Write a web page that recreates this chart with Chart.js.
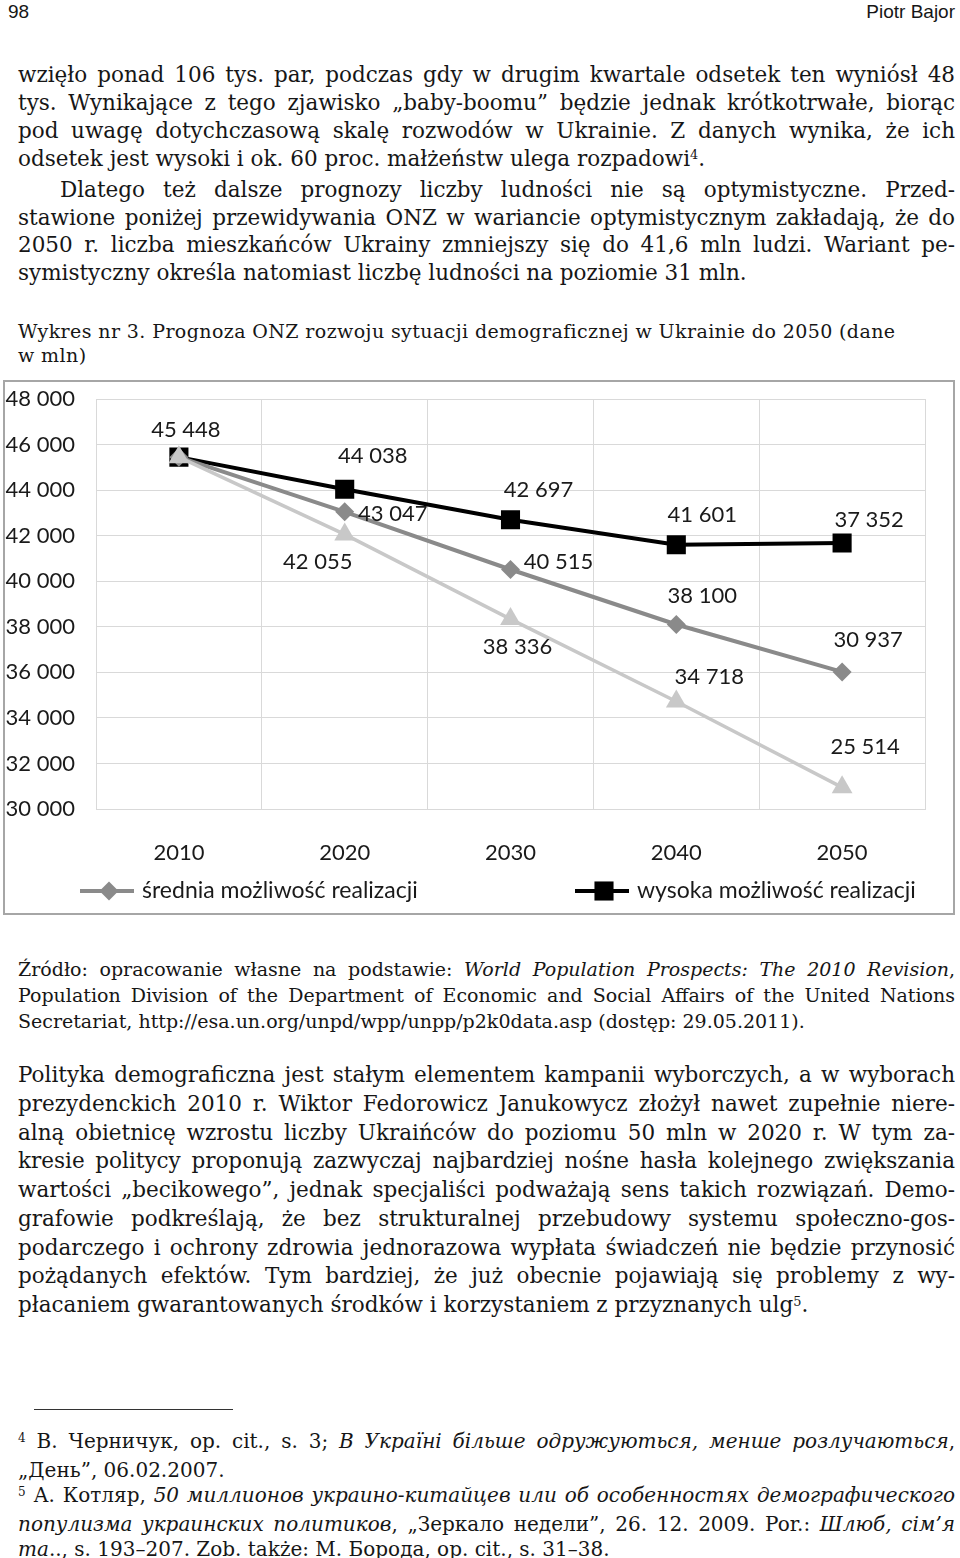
<!DOCTYPE html>
<html lang="pl">
<head>
<meta charset="utf-8">
<script src="https://cdn.jsdelivr.net/npm/chart.js@4.4.1/dist/chart.umd.min.js"></script>
<style>
  html, body { margin: 0; padding: 0; background: #fff; }
  body { width: 960px; height: 1558px; position: relative; overflow: hidden; color: #161616; }
  .hdr { position: absolute; top: 1px; font-family: "Liberation Sans", Arial, sans-serif; font-size: 19px; }
  .block { position: absolute; left: 18px; width: 937px; font-family: "DejaVu Serif", serif; }
  .j { text-align: justify; text-align-last: justify; word-spacing: -3px; }
  .sup { font-size: 0.6em; position: relative; top: -0.5em; }
  #p1 { top: 61px; font-size: 21.5px; line-height: 27.9px; }
  #cap { top: 319px; font-size: 19px; line-height: 24px; letter-spacing: 0.4px; }
  #src { top: 956px; font-size: 19px; line-height: 26px; }
  #p3 { top: 1061px; font-size: 21.5px; line-height: 28.75px; }
  #fn { top: 1429px; font-size: 20px; line-height: 25.5px; }
  #rule { position: absolute; left: 34px; top: 1409px; width: 199px; height: 1px; background: #333; }
  #chartBox { position: absolute; left: 3px; top: 380px; width: 952px; height: 535px; box-sizing: border-box; border: 2px solid #a6a6a6; background: #fff; }
  #chart { display: block; }
</style>
</head>
<body>
<div class="hdr" style="left:8px">98</div>
<div class="hdr" style="right:5px">Piotr Bajor</div>

<div class="block" id="p1">
  <div class="j">wzięło ponad 106 tys. par, podczas gdy w drugim kwartale odsetek ten wyniósł 48</div>
  <div class="j">tys. Wynikające z tego zjawisko „baby-boomu” będzie jednak krótkotrwałe, biorąc</div>
  <div class="j">pod uwagę dotychczasową skalę rozwodów w Ukrainie. Z danych wynika, że ich</div>
  <div>odsetek jest wysoki i ok. 60 proc. małżeństw ulega rozpadowi<span class="sup">4</span>.</div>
  <div class="j" style="padding-left:42px">Dlatego też dalsze prognozy liczby ludności nie są optymistyczne. Przed-</div>
  <div class="j">stawione poniżej przewidywania ONZ w wariancie optymistycznym zakładają, że do</div>
  <div class="j">2050 r. liczba mieszkańców Ukrainy zmniejszy się do 41,6 mln ludzi. Wariant pe-</div>
  <div>symistyczny określa natomiast liczbę ludności na poziomie 31 mln.</div>
</div>

<div class="block" id="cap">
  <div>Wykres nr 3. Prognoza ONZ rozwoju sytuacji demograficznej w Ukrainie do 2050 (dane</div>
  <div>w mln)</div>
</div>

<div id="chartBox"><canvas id="chart" width="948" height="531"></canvas></div>

<div class="block" id="src">
  <div class="j">Źródło: opracowanie własne na podstawie: <i>World Population Prospects: The 2010 Revision</i>,</div>
  <div class="j">Population Division of the Department of Economic and Social Affairs of the United Nations</div>
  <div>Secretariat, http://esa.un.org/unpd/wpp/unpp/p2k0data.asp (dostęp: 29.05.2011).</div>
</div>

<div class="block" id="p3">
  <div class="j">Polityka demograficzna jest stałym elementem kampanii wyborczych, a w wyborach</div>
  <div class="j">prezydenckich 2010 r. Wiktor Fedorowicz Janukowycz złożył nawet zupełnie niere-</div>
  <div class="j">alną obietnicę wzrostu liczby Ukraińców do poziomu 50 mln w 2020 r. W tym za-</div>
  <div class="j">kresie politycy proponują zazwyczaj najbardziej nośne hasła kolejnego zwiększania</div>
  <div class="j">wartości „becikowego”, jednak specjaliści podważają sens takich rozwiązań. Demo-</div>
  <div class="j">grafowie podkreślają, że bez strukturalnej przebudowy systemu społeczno-gos-</div>
  <div class="j">podarczego i ochrony zdrowia jednorazowa wypłata świadczeń nie będzie przynosić</div>
  <div class="j">pożądanych efektów. Tym bardziej, że już obecnie pojawiają się problemy z wy-</div>
  <div>płacaniem gwarantowanych środków i korzystaniem z przyznanych ulg<span class="sup">5</span>.</div>
</div>

<div id="rule"></div>

<div class="block" id="fn">
  <div class="j"><span class="sup">4</span> В. Черничук, op. cit., s. 3; <i>В Україні більше одружуються, менше розлучаються</i>,</div>
  <div>„День”, 06.02.2007.</div>
  <div class="j"><span class="sup">5</span> А. Котляр, <i>50 миллионов украино-китайцев или об особенностях демографического</i></div>
  <div class="j"><i>популизма украинских политиков</i>, „Зеркало недели”, 26. 12. 2009. Por.: <i>Шлюб, сім’я</i></div>
  <div><i>та</i>.., s. 193–207. Zob. także: М. Борода, op. cit., s. 31–38.</div>
</div>

<script>
// data (values as plotted, labels as printed)
var years = ["2010", "2020", "2030", "2040", "2050"];
var highValues = [45448, 44038, 42697, 41601, 41680];
var midValues = [45448, 43047, 40515, 38100, 36020];
var lowValues = [45448, 42055, 38336, 34718, 30950];
var highLabels = ["45 448", "44 038", "42 697", "41 601", "37 352"];
var midLabels = ["", "43 047", "40 515", "38 100", "30 937"];
var lowLabels = ["", "42 055", "38 336", "34 718", "25 514"];
var highName = "wysoka możliwość realizacji";
var midName = "średnia możliwość realizacji";
var lowName = "niska możliwość realizacji";
var yMin = 30000, yMax = 48000, yStep = 2000;

var FONT = "Lato";
var TEXT = "#1a1a1a";

function spaced(v) {
    return String(v).replace(/\B(?=(\d{3})+(?!\d))/g, " ");
}

// label offsets from the point, in px (dx, dy) - per dataset
var labelOffsets = [
    [[7, -27], [28, -33], [28, -30], [26, -30], [27, -23]],
    [[0, 0], [48, 2], [48, -8], [26, -29], [26, -32]],
    [[0, 0], [-27, 27], [7, 28], [33, -25], [23, -40]]
];

var pointLabels = {
    id: "pointLabels",
    afterDatasetsDraw: function(chart) {
        var ctx = chart.ctx;
        ctx.save();
        ctx.font = "22px " + FONT;
        ctx.fillStyle = TEXT;
        ctx.textAlign = "center";
        ctx.textBaseline = "middle";
        chart.data.datasets.forEach(function(ds, di) {
            var meta = chart.getDatasetMeta(di);
            meta.data.forEach(function(pt, i) {
                var txt = ds.valueLabels[i];
                if (!txt) return;
                var off = labelOffsets[di][i];
                ctx.fillText(txt, pt.x + off[0], pt.y + off[1]);
            });
        });
        ctx.restore();
    }
};

var lineLegend = {
    id: "lineLegend",
    afterDraw: function(chart) {
        var ctx = chart.ctx;
        var y = chart.height - 22;
        var items = [
            { ds: chart.data.datasets[1], x: 75 },
            { ds: chart.data.datasets[0], x: 570 }
        ];
        ctx.save();
        items.forEach(function(it) {
            var ds = it.ds;
            ctx.strokeStyle = ds.borderColor;
            ctx.lineWidth = ds.borderWidth;
            ctx.beginPath();
            ctx.moveTo(it.x, y);
            ctx.lineTo(it.x + 54, y);
            ctx.stroke();
            ctx.fillStyle = ds.pointBackgroundColor;
            ctx.strokeStyle = ds.pointBorderColor;
            Chart.helpers.drawPoint(ctx, {
                pointStyle: ds.pointStyle,
                radius: ds.pointRadius,
                rotation: 0,
                borderWidth: 0
            }, it.x + 29, y);
            ctx.font = "23px " + FONT;
            ctx.fillStyle = TEXT;
            ctx.textAlign = "left";
            ctx.textBaseline = "middle";
            ctx.fillText(ds.label, it.x + 62, y);
        });
        ctx.restore();
    }
};

var chartCtx = document.getElementById("chart").getContext("2d");
new Chart(chartCtx, {
    type: "line",
    data: {
        labels: years,
        datasets: [
            {
                label: highName,
                data: highValues,
                valueLabels: highLabels,
                borderColor: "#000000",
                borderWidth: 4,
                pointStyle: "rect",
                pointRadius: 13.5,
                pointBackgroundColor: "#000000",
                pointBorderColor: "#000000",
                pointBorderWidth: 0,
                order: 3
            },
            {
                label: midName,
                data: midValues,
                valueLabels: midLabels,
                borderColor: "#8a8a8a",
                borderWidth: 4,
                pointStyle: "rectRot",
                pointRadius: 9.5,
                pointBackgroundColor: "#8a8a8a",
                pointBorderColor: "#8a8a8a",
                pointBorderWidth: 0,
                order: 2
            },
            {
                label: lowName,
                data: lowValues,
                valueLabels: lowLabels,
                borderColor: "#c8c8c8",
                borderWidth: 3.5,
                pointStyle: "triangle",
                pointRadius: 12,
                pointBackgroundColor: "#c8c8c8",
                pointBorderColor: "#c8c8c8",
                pointBorderWidth: 0,
                order: 1
            }
        ]
    },
    options: {
        responsive: false,
        animation: false,
        devicePixelRatio: 1,
        layout: { padding: { top: 17, right: 28, left: 0, bottom: 0 } },
        plugins: {
            legend: { display: false },
            tooltip: { enabled: false }
        },
        elements: { line: { tension: 0 } },
        scales: {
            x: {
                offset: true,
                grid: { offset: true, color: "#d9d9d9", lineWidth: 1, drawTicks: false },
                border: { color: "#d9d9d9" },
                ticks: { font: { family: FONT, size: 22 }, color: TEXT, padding: 31 },
                afterFit: function(s) { s.height = 104; s.paddingLeft = 0; s.paddingRight = 0; }
            },
            y: {
                min: yMin,
                max: yMax,
                grid: { color: "#d9d9d9", lineWidth: 1, drawTicks: false },
                border: { color: "#d9d9d9" },
                ticks: {
                    stepSize: yStep,
                    font: { family: FONT, size: 22 },
                    color: TEXT,
                    padding: 21,
                    callback: function(v) { return spaced(v); }
                },
                afterFit: function(s) { s.width = 91; s.paddingTop = 0; s.paddingBottom = 0; }
            }
        }
    },
    plugins: [pointLabels, lineLegend]
});
</script>
</body>
</html>
